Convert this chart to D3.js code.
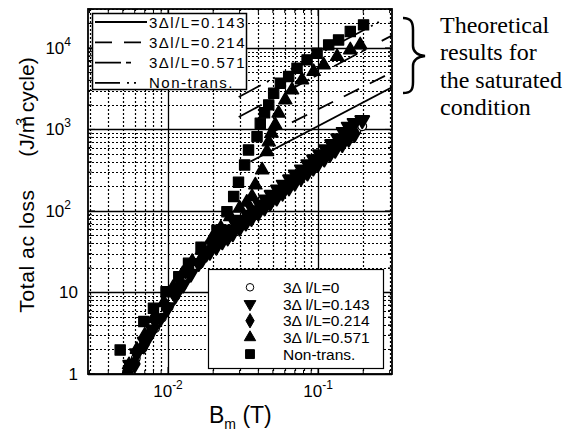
<!DOCTYPE html>
<html>
<head>
<meta charset="utf-8">
<script src="https://cdn.jsdelivr.net/npm/d3@7"></script>
<style>
  body { margin: 0; background: #fff; }
  text { font-family: "Liberation Sans", Arial, sans-serif; fill: #000; }
</style>
</head>
<body>
<script>
// measured data, [B_m (T), total ac loss (J/m^3 cycle)]
const lossT0 = [[0.0057,1.2],[0.0061,1.56],[0.0068,2.1],[0.0075,2.9],[0.0082,3.64],[0.0091,4.9],[0.0101,6.6],[0.0112,9.0],[0.0124,12],[0.0138,16],[0.0153,21],[0.0170,27],[0.0188,33],[0.0207,38],[0.0225,43],[0.0245,49],[0.0265,55],[0.029,63],[0.032,73],[0.035,83],[0.038,94],[0.042,109],[0.046,125],[0.050,142],[0.055,163],[0.060,186],[0.066,214],[0.072,244],[0.079,280],[0.087,323],[0.095,368],[0.104,421],[0.114,483],[0.125,555],[0.137,636],[0.150,730],[0.164,834],[0.180,958],[0.197,1095]];
const lossT143 = [[0.0056,1.3],[0.0062,1.8],[0.0070,2.5],[0.0079,3.5],[0.0089,4.8],[0.0100,6.6],[0.0112,9.2],[0.0126,12.5],[0.0142,17],[0.016,23],[0.018,30],[0.020,38],[0.022,45],[0.024,52],[0.026,59],[0.0285,68],[0.031,78],[0.034,90],[0.037,102],[0.041,120],[0.045,138],[0.049,158],[0.054,183],[0.059,210],[0.065,244],[0.071,280],[0.078,323],[0.086,375],[0.094,430],[0.103,495],[0.113,570],[0.124,660],[0.136,780],[0.148,930],[0.160,1080],[0.175,1200],[0.197,1300]];
const lossT214 = [[0.0054,1.04],[0.0060,1.33],[0.0069,2.27],[0.0074,2.87],[0.0082,4.6],[0.0098,6.4],[0.0118,11.8],[0.0137,18],[0.0169,26],[0.019,32],[0.021,37],[0.023,43],[0.025,48],[0.027,54],[0.030,63],[0.033,73],[0.036,83],[0.040,97],[0.044,112],[0.048,128],[0.053,148],[0.058,170],[0.064,197],[0.070,225],[0.077,260],[0.085,300],[0.093,345],[0.10,385],[0.11,445],[0.12,505],[0.13,570],[0.145,670],[0.16,780],[0.175,890]];
const lossT571 = [[0.0055,1.3],[0.0062,2.0],[0.0070,3.0],[0.0080,4.8],[0.0094,7.5],[0.0108,11.5],[0.0125,17],[0.0145,24],[0.0168,33],[0.0195,45],[0.0225,62],[0.026,85],[0.030,108],[0.0335,128],[0.0363,150],[0.0382,208],[0.0424,318],[0.0457,534],[0.0469,700],[0.0490,898],[0.0519,1135],[0.0546,1580],[0.0605,2300],[0.0671,3050],[0.0782,4050],[0.0935,5120],[0.109,6180],[0.134,7820],[0.164,9450],[0.191,10890]];
const lossNonTrans = [[0.0048,1.97],[0.0069,4.4],[0.0080,6.4],[0.0097,10.2],[0.0118,15.6],[0.0137,22.8],[0.0166,36],[0.0212,58],[0.0247,98],[0.0274,150],[0.0295,225],[0.0324,367],[0.0344,560],[0.0392,816],[0.0412,1190],[0.0440,1600],[0.0469,2000],[0.0506,2780],[0.0561,3690],[0.0637,4450],[0.0724,5640],[0.0845,7130],[0.0985,8610],[0.1177,10890],[0.137,12530],[0.164,15850],[0.201,19150]];

// theoretical results for the saturated condition (end points)
const theoryT143 = [[0.0354,403],[0.3126,3320]];
const theoryT214 = [[0.045,845],[0.3126,5040]];
const theoryT571 = [[0.0296,1420],[0.3126,14300]];
const theoryNonTrans = [[0.0296,2500],[0.3126,25500]];

const lineNames = ["3\u0394l/L=0.143", "3\u0394l/L=0.214", "3\u0394l/L=0.571", "Non-trans."];
const pointNames = ["3\u0394 l/L=0", "3\u0394 l/L=0.143", "3\u0394 l/L=0.214", "3\u0394 l/L=0.571", "Non-trans."];

const xTicks = [0.01, 0.1];
const xTickLabels = [["10", "-2"], ["10", "-1"]];
const yTicks = [1, 10, 100, 1000, 10000];
const yTickLabels = [["1", ""], ["10", ""], ["10", "2"], ["10", "3"], ["10", "4"]];

document.addEventListener("DOMContentLoaded", drawChart);

function drawChart () {
  const svg = d3.select("body").append("svg")
    .attr("width", 583)
    .attr("height", 432);

  const left = 88, right = 392, top = 9, bottom = 374;

  const x = d3.scaleLog().domain([0.00293, 0.311]).range([left, right]);
  const y = d3.scaleLog().domain([1, 30000]).range([bottom, top]);

  const isMajor = v => Math.abs(Math.log10(v) - Math.round(Math.log10(v))) < 1e-6;

  // grid: solid at decades, dotted in between
  const grid = svg.append("g");
  grid.selectAll(".vx").data(x.ticks()).join("line")
    .attr("x1", d => Math.round(x(d)) + 0.5).attr("x2", d => Math.round(x(d)) + 0.5)
    .attr("y1", top).attr("y2", bottom)
    .attr("stroke", "#000")
    .attr("stroke-width", d => isMajor(d) ? 1.3 : 1.2)
    .attr("stroke-dasharray", d => isMajor(d) ? null : "2,2");
  grid.selectAll(".hy").data(y.ticks()).join("line")
    .attr("y1", d => Math.round(y(d)) + 0.5).attr("y2", d => Math.round(y(d)) + 0.5)
    .attr("x1", left).attr("x2", right)
    .attr("stroke", "#000")
    .attr("stroke-width", d => isMajor(d) ? 1.3 : 1.2)
    .attr("stroke-dasharray", d => isMajor(d) ? null : "2,2");

  // frame ticks
  const ticks = svg.append("g").attr("stroke", "#000");
  x.ticks().forEach(d => {
    const len = isMajor(d) ? 7 : 4;
    ticks.append("line").attr("x1", x(d)).attr("x2", x(d)).attr("y1", bottom).attr("y2", bottom - len);
    ticks.append("line").attr("x1", x(d)).attr("x2", x(d)).attr("y1", top).attr("y2", top + len);
  });
  y.ticks().forEach(d => {
    const len = isMajor(d) ? 7 : 4;
    ticks.append("line").attr("y1", y(d)).attr("y2", y(d)).attr("x1", left).attr("x2", left + len);
    ticks.append("line").attr("y1", y(d)).attr("y2", y(d)).attr("x1", right).attr("x2", right - len);
  });

  svg.append("clipPath").attr("id", "plotClip")
    .append("rect").attr("x", left).attr("y", top)
    .attr("width", right - left).attr("height", bottom - top);

  const plot = svg.append("g").attr("clip-path", "url(#plotClip)");

  // theoretical lines
  const dashes = [null, "17,12", "26,5,5,18", "25,7,2,5,2,18"];
  const lineGen = d3.line().x(d => x(d[0])).y(d => y(d[1]));
  [theoryT143, theoryT214, theoryT571, theoryNonTrans].forEach((ln, i) => {
    plot.append("path")
      .datum(ln)
      .attr("d", lineGen)
      .attr("fill", "none")
      .attr("stroke", "#000")
      .attr("stroke-width", 1.8)
      .attr("stroke-dasharray", dashes[i]);
  });

  // markers
  const shapes = [
    { type: d3.symbolCircle, size: 60, rot: 0, fill: "#fff", sw: 1.2 },
    { type: d3.symbolTriangle, size: 80, rot: 180, fill: "#000", sw: 2.2 },
    { type: d3.symbolDiamond, size: 80, rot: 0, fill: "#000", sw: 2.2 },
    { type: d3.symbolTriangle, size: 75, rot: 0, fill: "#000", sw: 1.4 },
    { type: d3.symbolSquare, size: 105, rot: 0, fill: "#000", sw: 1.2 }
  ];
  const series = [lossT0, lossT143, lossT214, lossT571, lossNonTrans];
  series.forEach((pts, i) => {
    const s = shapes[i];
    plot.selectAll(".s" + i).data(pts).join("path")
      .attr("d", d3.symbol().type(s.type).size(s.size))
      .attr("transform", d => `translate(${x(d[0])},${y(d[1])}) rotate(${s.rot})`)
      .attr("fill", s.fill)
      .attr("stroke", "#000")
      .attr("stroke-linejoin", "round")
      .attr("stroke-width", s.sw);
  });

  // frame
  svg.append("rect")
    .attr("x", left).attr("y", top)
    .attr("width", right - left).attr("height", bottom - top)
    .attr("fill", "none").attr("stroke", "#000").attr("stroke-width", 1.8);

  // tick labels
  svg.selectAll(".ylab").data(yTicks).join("text")
    .attr("x", (d, i) => yTickLabels[i][1] ? 71 : 78)
    .attr("y", d => y(d) + 6)
    .attr("text-anchor", "end")
    .attr("font-size", 17)
    .each(function (d, i) {
      const t = d3.select(this);
      t.append("tspan").text(yTickLabels[i][0]);
      if (yTickLabels[i][1]) {
        t.append("tspan").attr("dy", -8).attr("font-size", 12).text(yTickLabels[i][1]);
      }
    });

  svg.selectAll(".xlab").data(xTicks).join("text")
    .attr("x", d => x(d))
    .attr("y", 397)
    .attr("text-anchor", "middle")
    .attr("font-size", 17)
    .each(function (d, i) {
      const t = d3.select(this);
      t.append("tspan").text(xTickLabels[i][0]);
      t.append("tspan").attr("dy", -8).attr("font-size", 12).text(xTickLabels[i][1]);
    });

  // axis titles
  const xt = svg.append("text")
    .attr("x", 209).attr("y", 423)
    .attr("font-size", 23);
  xt.append("tspan").text("B");
  xt.append("tspan").attr("dy", 6).attr("font-size", 14).text("m");
  xt.append("tspan").attr("dy", -6).text(" (T)");

  svg.append("text")
    .attr("transform", "translate(34,251) rotate(-90)")
    .attr("text-anchor", "middle")
    .attr("font-size", 21)
    .attr("letter-spacing", 0.6)
    .text("Total ac loss");
  const yt = svg.append("text")
    .attr("transform", "translate(34,107) rotate(-90)")
    .attr("text-anchor", "middle")
    .attr("font-size", 21);
  yt.append("tspan").text("(J/m");
  yt.append("tspan").attr("dy", -8).attr("dx", -10).attr("font-size", 14).text("3");
  yt.append("tspan").attr("dy", 8).text(" cycle)");

  // legend for theoretical lines
  const leg1 = svg.append("g");
  leg1.append("rect")
    .attr("x", 92.5).attr("y", 13.5).attr("width", 154).attr("height", 76)
    .attr("fill", "#fff").attr("stroke", "#000").attr("stroke-width", 1.5);
  lineNames.forEach((name, i) => {
    const yy = 22 + i * 20.3;
    leg1.append("line")
      .attr("x1", 95).attr("x2", 147).attr("y1", yy).attr("y2", yy)
      .attr("stroke", "#000").attr("stroke-width", 1.8)
      .attr("stroke-dasharray", dashes[i]);
    leg1.append("text")
      .attr("x", 149).attr("y", yy + 5.5)
      .attr("font-size", 15)
      .attr("letter-spacing", 1.5)
      .text(name);
  });

  // legend for measured points
  const leg2 = svg.append("g");
  leg2.append("rect")
    .attr("x", 208.5).attr("y", 269.5).attr("width", 175).attr("height", 99)
    .attr("fill", "#fff").attr("stroke", "#000").attr("stroke-width", 1.2);
  pointNames.forEach((name, i) => {
    const yy = 287.3 + i * 16.7;
    const s = shapes[i];
    leg2.append("path")
      .attr("d", d3.symbol().type(s.type).size(s.size * 0.75))
      .attr("transform", `translate(250,${yy}) rotate(${s.rot})`)
      .attr("fill", s.fill).attr("stroke", "#000").attr("stroke-width", 1);
    leg2.append("text")
      .attr("x", 283).attr("y", yy + 5.5)
      .attr("font-size", 15.5)
      .text(name);
  });

  // brace and annotation
  svg.append("path")
    .attr("d", "M403,18 C411,18 413,22 413,30 L413,46 C413,52 417,55 425,56 C417,57 413,60 413,66 L413,82 C413,90 411,93 403,93")
    .attr("fill", "none").attr("stroke", "#000").attr("stroke-width", 2.5);
  const note = ["Theoretical", "results for", "the saturated", "condition"];
  svg.selectAll(".note").data(note).join("text")
    .attr("x", 440)
    .attr("y", (d, i) => 33 + i * 27.3)
    .style("font-family", "'Liberation Serif', 'Times New Roman', serif")
    .attr("font-size", 24)
    .text(d => d);
}
</script>
</body>
</html>
